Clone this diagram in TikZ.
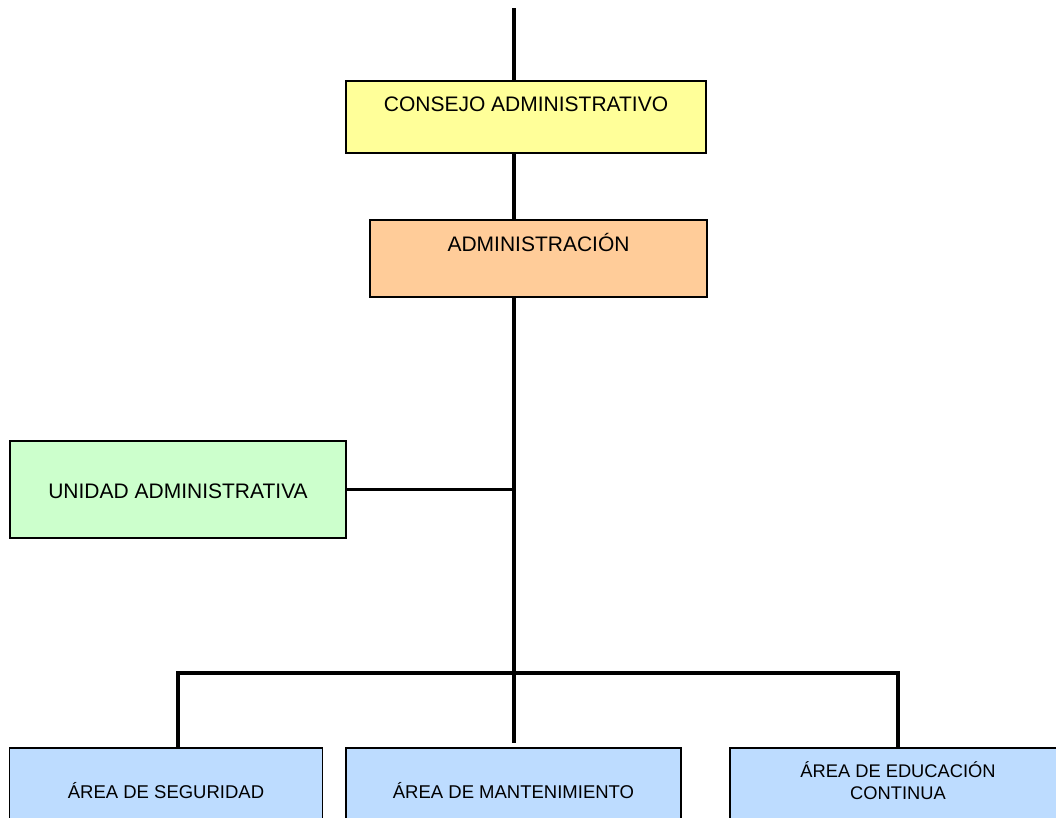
\documentclass[tikz,border=0pt]{standalone}
\usepackage{fontspec}
\setmainfont{Liberation Sans}
\definecolor{cyellow}{HTML}{FFFF99}
\definecolor{corange}{HTML}{FFCC99}
\definecolor{cgreen}{HTML}{CCFFCC}
\definecolor{cblue}{HTML}{BDDCFF}
\begin{document}
\begin{tikzpicture}[x=1pt,y=-1pt,
  box/.style={draw=black, line width=1.6pt, inner xsep=0pt, inner ysep=0pt, anchor=base,
    font=\fontsize{21}{26}\selectfont},
  lowbox/.style={box, font=\fontsize{18.5}{22}\selectfont},
  lowtext/.style={anchor=base, inner sep=0pt, align=center, font=\fontsize{18.3}{22}\selectfont},
  conn/.style={line width=3.5pt}]
\clip (0,0) rectangle (1056,817);
\fill[white] (0,0) rectangle (1056,817);

\node[box, fill=cyellow, minimum width=360pt, text height=30pt, text depth=42pt] (consejo) at (526,111) {CONSEJO ADMINISTRATIVO};
\node[box, fill=corange, minimum width=337pt, text height=31pt, text depth=46pt] (admin) at (538.5,251) {ADMINISTRACIÓN};
\node[box, fill=cgreen, minimum width=336pt, text height=57pt, text depth=40pt] (unidad) at (178,498) {UNIDAD ADMINISTRATIVA};

\node[lowbox, fill=cblue, minimum width=313pt, text height=50pt, text depth=40pt] (seg) at (166,798) {ÁREA DE SEGURIDAD};
\node[lowbox, fill=cblue, minimum width=335pt, text height=50pt, text depth=40pt] (mant) at (513.5,798) {ÁREA DE MANTENIMIENTO};
\node[lowbox, fill=cblue, minimum width=334pt, text height=50pt, text depth=40pt] (edu) at (897,798) {};
\node[lowtext] (edut) at (898,799) {ÁREA DE EDUCACIÓN\\CONTINUA};

\coordinate (top) at (514,8);
\coordinate (mid) at (514,743);
\coordinate (barL) at (178,673);
\coordinate (barR) at (898,673);

\draw[conn] (top) -- (top |- consejo.north);
\draw[conn] (top |- consejo.south) -- (top |- admin.north);
\draw[conn] (top |- admin.south) -- (mid);
\draw[conn] (unidad.east) -- (unidad.east -| top);
\draw[conn] (barL |- seg.north) -- (barL) -- (barR) -- (barR |- edu.north);
\end{tikzpicture}
\end{document}
